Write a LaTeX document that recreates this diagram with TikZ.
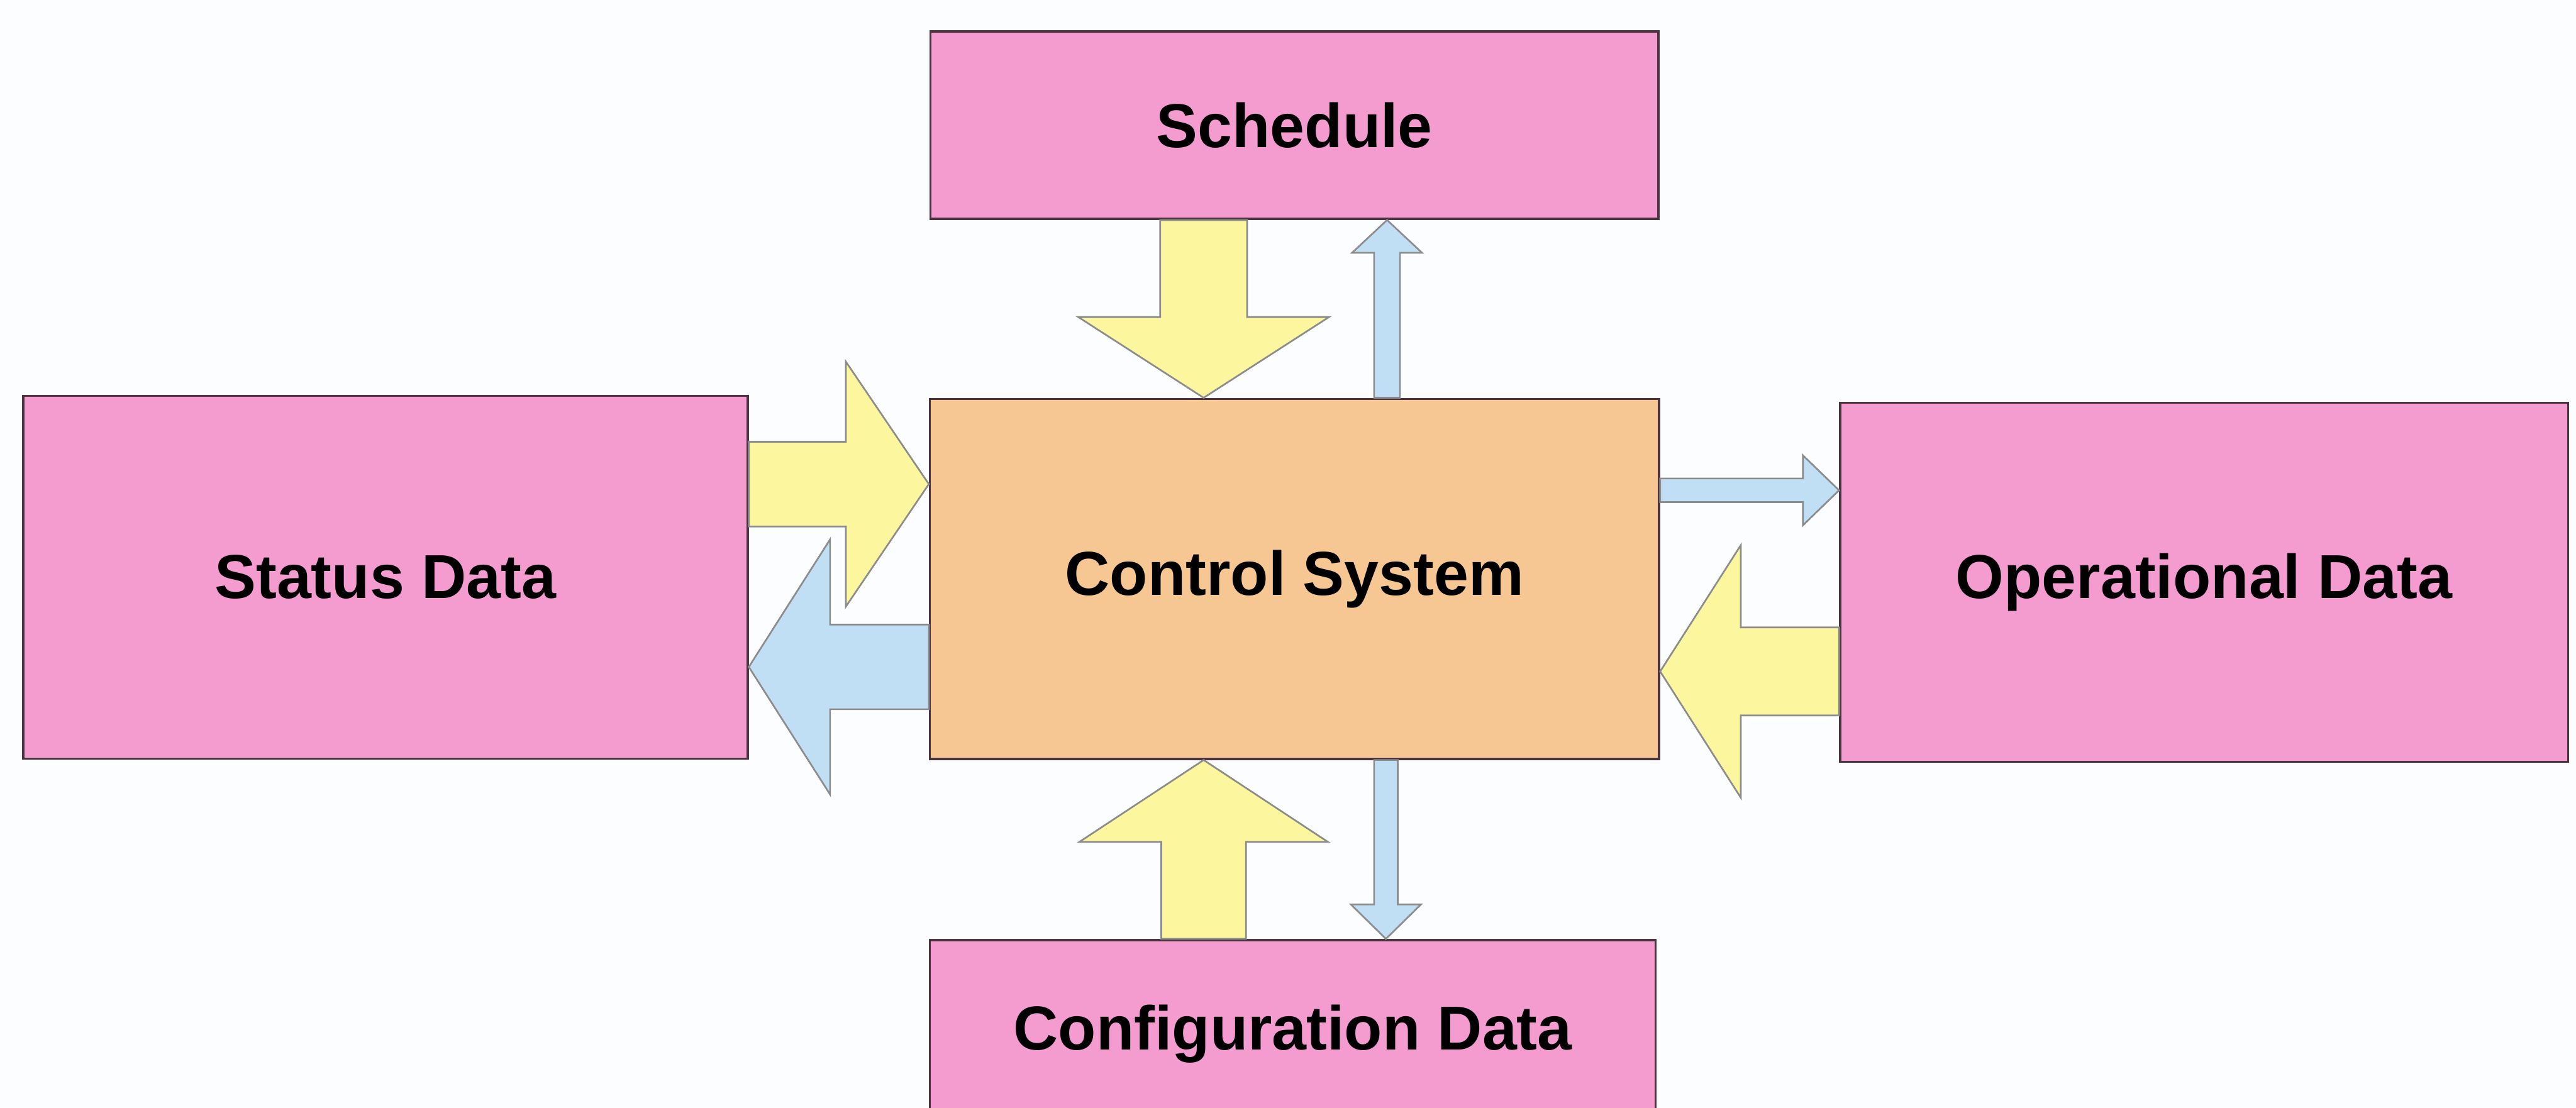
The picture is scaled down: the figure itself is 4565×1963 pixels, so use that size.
\documentclass[tikz,border=0pt]{standalone}
\usepackage{fontspec}
\setmainfont{Liberation Sans}
\usetikzlibrary{calc}

\definecolor{bgcol}{HTML}{FCFDFE}
\definecolor{pinkfill}{HTML}{F49BCF}
\definecolor{orangefill}{HTML}{F7C793}
\definecolor{yellowfill}{HTML}{FCF79E}
\definecolor{bluefill}{HTML}{C0DFF5}
\definecolor{boxline}{HTML}{4B3440}
\definecolor{arrowline}{HTML}{8C8C8C}

% Block arrow from #2 (tail) to #3 (tip):
% #4 shaft half-width, #5 head half-width, #6 head length
\newcommand\blockarrow[6][]{%
  \draw[#1] let \p1=#2, \p2=#3,
      \n1={atan2(\y2-\y1,\x2-\x1)}, \n2={veclen(\x2-\x1,\y2-\y1)} in
    [shift={(\p1)}, rotate=\n1]
    (0,#4) -- ({\n2-#6},#4) -- ({\n2-#6},#5) -- (\n2,0)
    -- ({\n2-#6},-#5) -- ({\n2-#6},-#4) -- (0,-#4) -- cycle;%
}

\begin{document}
\begin{tikzpicture}[x=1pt,y=-1pt,
  databox/.style={draw=boxline, line width=4, fill=pinkfill, inner sep=0,
    font=\bfseries\fontsize{110}{130}\selectfont},
  corebox/.style={databox, fill=orangefill},
  yarrow/.style={fill=yellowfill, draw=arrowline, line width=3, line join=miter},
  barrow/.style={fill=bluefill, draw=arrowline, line width=3, line join=miter}]

\fill[bgcol] (0,0) rectangle (4565,1963);
\useasboundingbox (0,0) rectangle (4565,1963);

% boxes
\node[databox, minimum width=1290, minimum height=332] (sched) at (2294,222) {Schedule};
\node[databox, minimum width=1284, minimum height=643] (status) at (683,1023) {Status Data};
\node[corebox, minimum width=1292, minimum height=638] (ctrl) at (2294,1026) {Control System};
\node[databox, minimum width=1290, minimum height=636] (oper) at (3906,1032) {Operational Data};
\node[databox, minimum width=1286, minimum height=332] (config) at (2291,1832) {Configuration Data};

% arrow end points on the control box
\coordinate (t1) at ($(ctrl.north)+(-161,0)$);
\coordinate (t2) at ($(ctrl.north)+(164,0)$);
\coordinate (t3) at ($(ctrl.west)+(0,-168)$);
\coordinate (t4) at ($(ctrl.west)+(0,156)$);
\coordinate (t5) at ($(ctrl.east)+(0,-157)$);
\coordinate (t6) at ($(ctrl.east)+(0,164)$);
\coordinate (t7) at ($(ctrl.south)+(-161,0)$);
\coordinate (t8) at ($(ctrl.south)+(162,0)$);

% Schedule <-> Control System
\blockarrow[yarrow]{(sched.south -| t1)}{(t1)}{77}{222}{143}
\blockarrow[barrow]{(t2)}{(sched.south -| t2)}{23}{62}{58}
% Status Data <-> Control System
\blockarrow[yarrow]{(status.east |- t3)}{(t3)}{75}{217}{147}
\blockarrow[barrow]{(t4)}{(status.east |- t4)}{75}{226}{144}
% Control System <-> Operational Data
\blockarrow[barrow]{(t5)}{(oper.west |- t5)}{21}{62}{64}
\blockarrow[yarrow]{(oper.west |- t6)}{(t6)}{78}{224}{143}
% Configuration Data <-> Control System
\blockarrow[yarrow]{(config.north -| t7)}{(t7)}{75}{220}{145}
\blockarrow[barrow]{(t8)}{(config.north -| t8)}{21}{62}{61}
\end{tikzpicture}
\end{document}
